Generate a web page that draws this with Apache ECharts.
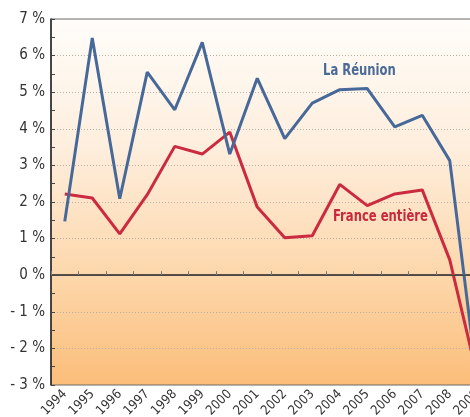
<!DOCTYPE html>
<html><head><meta charset="utf-8">
<script src="https://cdn.jsdelivr.net/npm/echarts@6/dist/echarts.min.js"></script>
<style>html,body{margin:0;padding:0;background:#fff;overflow:hidden;width:470px;height:417px}#c{width:470px;height:417px}</style>
</head><body><div id="c"></div>
<script>
var years = ['1994','1995','1996','1997','1998','1999','2000','2001','2002','2003','2004','2005','2006','2007','2008','2009'];
var reunion = [1.47,6.48,2.09,5.55,4.52,6.36,3.31,5.38,3.73,4.70,5.07,5.10,4.05,4.37,3.13,-2.9];
var france = [2.22,2.11,1.13,2.2,3.52,3.31,3.91,1.86,1.02,1.08,2.48,1.90,2.22,2.33,0.42,-2.75];
var seriesNames = ['La Réunion','France entière'];
var FONT = '"Liberation Sans Narrow","DejaVu Sans Condensed",sans-serif';
var chart = echarts.init(document.getElementById('c'), null, {renderer:'canvas'});
chart.setOption({
  animation:false,
  grid:{left:51, top:19, right:-21, bottom:32, outerBoundsMode:'none', containLabel:false, show:true, borderColor:'#6a6a6a', borderWidth:1,
    backgroundColor:{type:'linear',x:0,y:0,x2:0,y2:1,colorStops:[
      {offset:0,color:'#fffdfa'},{offset:0.35,color:'#feeedd'},{offset:0.7,color:'#fdd7ab'},{offset:1,color:'#fbbd79'}]}},
  xAxis:{type:'category', data:years, boundaryGap:true,
    axisLine:{lineStyle:{color:'#222',width:1.5}},
    axisTick:{show:true,inside:true,length:4,lineStyle:{color:'#777'}},
    axisLabel:{rotate:45, fontFamily:FONT, fontSize:13, color:'#333', margin:7, interval:0}},
  yAxis:{type:'value', min:-3, max:7, interval:1,
    axisLine:{show:true,lineStyle:{color:'#222',width:1.5}},
    axisTick:{show:true,inside:true,length:4,lineStyle:{color:'#444'}},
    minorTick:{show:true,splitNumber:2,length:4,lineStyle:{color:'#444'}},
    axisLabel:{fontFamily:FONT, fontSize:15, color:'#333', margin:6,
      formatter:function(v){return v<0?('- '+(-v)+' %'):(v+' %');}},
    splitLine:{show:true,lineStyle:{color:'#b8b0a8',type:[1,2],width:1}}},
  series:[
    {name:seriesNames[0], type:'line', data:reunion, symbol:'none', z:3,
      lineStyle:{color:'#46699a',width:3}, itemStyle:{color:'#46699a'},
      markLine:{silent:true, symbol:'none', label:{show:false}, lineStyle:{color:'#4a4a4a',type:'solid',width:1}, data:[{yAxis:0}]}},
    {name:seriesNames[1], type:'line', data:france, symbol:'none', z:2,
      lineStyle:{color:'#cb2a3f',width:3}, itemStyle:{color:'#cb2a3f'}}
  ],
  graphic:[
    {type:'text', x:323, y:64, scaleX:0.86, style:{text:seriesNames[0], font:'bold 15px '+FONT, fill:'#4b6a97'}},
    {type:'text', x:333, y:210, scaleX:0.86, style:{text:seriesNames[1], font:'bold 15px '+FONT, fill:'#c8293d'}}
  ]
});
</script></body></html>
